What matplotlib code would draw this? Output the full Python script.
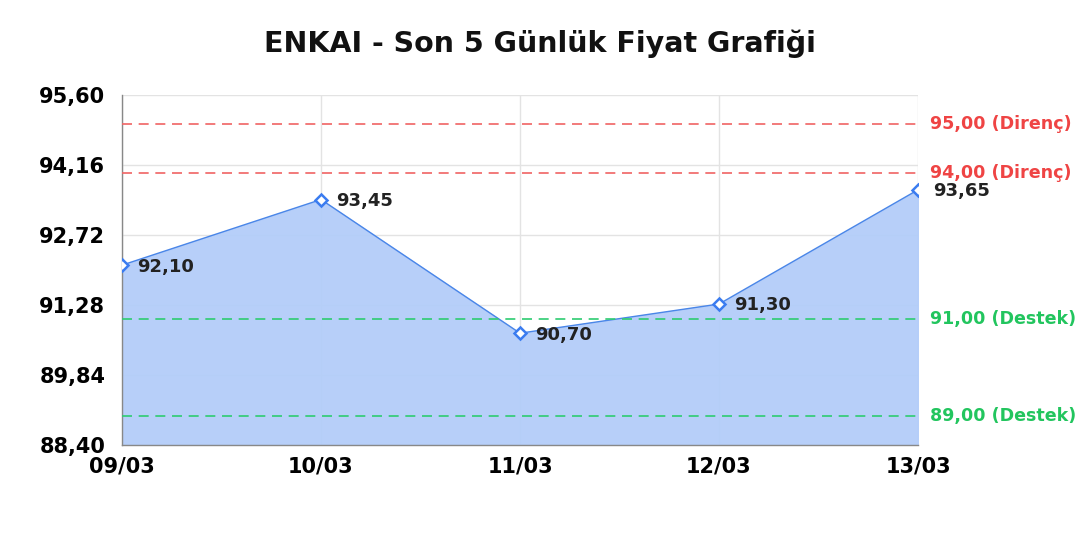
import matplotlib
matplotlib.use('Agg')
import matplotlib.pyplot as plt
import numpy as np

dates = ['09/03', '10/03', '11/03', '12/03', '13/03']
prices = [92.10, 93.45, 90.70, 91.30, 93.65]
resistance = [95.00, 94.00]
support = [91.00, 89.00]
y_ticks = [88.40, 89.84, 91.28, 92.72, 94.16, 95.60]

def tr(v):
    return f'{v:.2f}'.replace('.', ',')

fig = plt.figure(figsize=(10.8, 5.4), dpi=100)
ax = fig.add_axes([122 / 1080, 1 - 445 / 540, (918 - 122) / 1080, 350 / 540])
x = np.arange(len(dates))

ax.fill_between(x, prices, 88.40, color='#b3cdf9', alpha=0.95, zorder=2)
ax.plot(x, prices, color='#4a86e8', linewidth=1, zorder=3)
ax.plot(x, prices, linestyle='none', marker='D', markersize=6.5,
        markerfacecolor='white', markeredgecolor='#3b7cf0', markeredgewidth=1.8, zorder=4)
for xi, p in zip(x, prices):
    ax.annotate(tr(p), (xi, p), xytext=(11, -1), textcoords='offset points',
                fontsize=13, fontweight='bold', color='#222222', va='center', zorder=5)

for r in resistance:
    ax.axhline(r, color='#f06464', linestyle=(0, (6, 4)), linewidth=1.2, zorder=3)
    ax.text(1.015, r, f'{tr(r)} (Direnç)', transform=ax.get_yaxis_transform(),
            color='#ef4444', fontsize=12.6, fontweight='bold', va='center')
for s in support:
    ax.axhline(s, color='#2ecc71', linestyle=(0, (6, 4)), linewidth=1.2, zorder=3)
    ax.text(1.015, s, f'{tr(s)} (Destek)', transform=ax.get_yaxis_transform(),
            color='#22c55e', fontsize=12.6, fontweight='bold', va='center')

ax.set_xlim(0, len(dates) - 1)
ax.set_ylim(88.40, 95.60)
ax.set_yticks(y_ticks)
ax.set_yticklabels([tr(v) for v in y_ticks], fontsize=15, fontweight='bold')
ax.set_xticks(x)
ax.set_xticklabels(dates, fontsize=15, fontweight='bold')
ax.tick_params(axis='y', length=0, pad=12)
ax.tick_params(axis='x', length=0, pad=8)
ax.grid(True, color='#e3e3e3', linewidth=1, zorder=1)
ax.set_axisbelow(True)
for sp in ['top', 'right']:
    ax.spines[sp].set_visible(False)
for sp in ['left', 'bottom']:
    ax.spines[sp].set_color('#888888')
    ax.spines[sp].set_linewidth(1)

fig.text(540 / 1080, 1 - 44 / 540, 'ENKAI - Son 5 Günlük Fiyat Grafiği',
         ha='center', va='center', fontsize=20.5, fontweight='bold', color='#111111')

plt.savefig('out.png', dpi=100)
plt.close()
